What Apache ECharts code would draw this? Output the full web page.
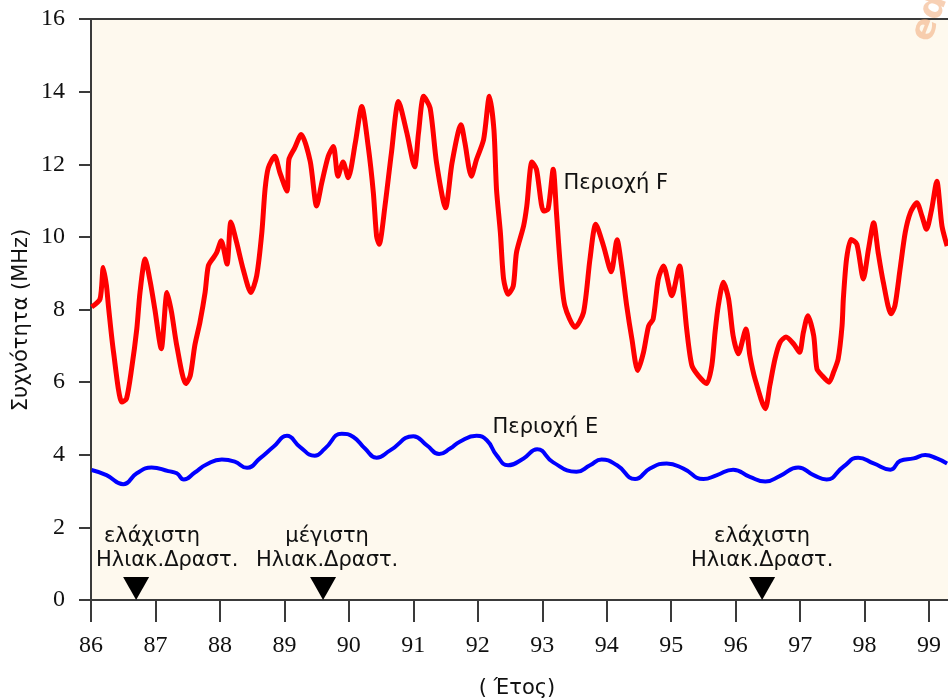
<!DOCTYPE html>
<html><head><meta charset="utf-8">
<script src="https://cdn.jsdelivr.net/npm/echarts@6/dist/echarts.min.js"></script>
<style>html,body{margin:0;padding:0;background:#fff}#c{width:948px;height:699px}</style>
</head><body><div id="c"></div>
<script>
// ---- data ----
const xTicks = [86,87,88,89,90,91,92,93,94,95,96,97,98,99];
const yTicks = [0,2,4,6,8,10,12,14,16];

// Περιοχή F (red)
const fYears = [86.01,86.14,86.19,86.24,86.27,86.35,86.48,86.55,86.63,86.71,86.76,86.84,86.92,86.99,87.09,87.18,87.25,87.33,87.47,87.54,87.61,87.69,87.77,87.82,87.90,87.95,88.02,88.11,88.17,88.26,88.36,88.48,88.57,88.65,88.70,88.75,88.85,88.93,89.04,89.07,89.16,89.26,89.40,89.50,89.58,89.68,89.76,89.83,89.91,89.99,90.10,90.20,90.30,90.38,90.43,90.47,90.56,90.66,90.77,90.90,91.02,91.08,91.16,91.26,91.36,91.50,91.60,91.74,91.80,91.90,91.98,92.09,92.18,92.25,92.29,92.35,92.40,92.47,92.55,92.60,92.71,92.76,92.84,92.91,93.02,93.09,93.17,93.22,93.28,93.35,93.51,93.64,93.74,93.83,93.95,94.07,94.16,94.23,94.31,94.39,94.48,94.57,94.65,94.72,94.80,94.88,95.01,95.13,95.19,95.24,95.32,95.42,95.55,95.63,95.68,95.73,95.81,95.89,95.96,96.04,96.16,96.22,96.30,96.46,96.53,96.61,96.69,96.78,96.90,96.99,97.05,97.12,97.21,97.26,97.34,97.45,97.52,97.59,97.65,97.67,97.72,97.79,97.88,97.98,98.06,98.14,98.21,98.29,98.41,98.47,98.55,98.63,98.71,98.81,98.89,98.96,99.04,99.12,99.20,99.28];
const fValues = [8.07,8.29,9.16,8.65,8.10,6.82,5.45,5.54,6.37,7.46,8.47,9.39,8.75,8.01,6.92,8.47,7.92,7.01,5.96,6.18,7.01,7.65,8.47,9.20,9.43,9.57,9.89,9.25,10.41,9.84,9.11,8.47,8.93,10.12,11.31,11.90,12.22,11.77,11.26,12.13,12.45,12.82,12.08,10.85,11.49,12.22,12.49,11.67,12.06,11.63,12.59,13.59,12.49,11.21,10.02,9.80,10.85,12.31,13.73,12.86,11.93,12.86,13.87,13.55,12.04,10.80,12.04,13.09,12.59,11.67,12.13,12.68,13.87,12.95,11.31,10.12,8.84,8.42,8.65,9.57,10.30,10.85,12.06,11.86,10.71,10.76,11.86,10.67,9.20,8.10,7.51,7.92,9.39,10.35,9.75,9.04,9.92,9.20,8.10,7.19,6.32,6.82,7.55,7.74,8.84,9.20,8.38,9.20,8.38,7.46,6.46,6.18,5.96,6.46,7.37,8.10,8.75,8.29,7.28,6.78,7.46,6.73,6.09,5.27,5.91,6.64,7.10,7.24,7.05,6.82,7.37,7.83,7.28,6.37,6.18,6.00,6.28,6.64,7.55,8.29,9.39,9.93,9.80,8.84,9.66,10.39,9.57,8.75,7.88,8.10,9.11,10.12,10.67,10.94,10.57,10.21,10.76,11.53,10.30,9.75];

// Περιοχή E (blue)
const eYears = [86.01,86.24,86.50,86.71,86.94,87.20,87.33,87.44,87.61,87.79,88.03,88.23,88.42,88.62,88.83,89.04,89.24,89.47,89.63,89.89,90.07,90.25,90.43,90.64,91.00,91.21,91.40,91.57,91.72,91.98,92.14,92.29,92.47,92.71,92.92,93.17,93.53,93.74,93.92,94.16,94.44,94.67,94.93,95.19,95.50,95.71,95.96,96.22,96.46,96.69,96.97,97.21,97.41,97.67,97.90,98.14,98.40,98.55,98.76,98.94,99.12,99.28];
const eValues = [3.58,3.44,3.19,3.49,3.65,3.55,3.49,3.32,3.51,3.73,3.87,3.81,3.64,3.90,4.22,4.52,4.22,3.97,4.17,4.58,4.49,4.17,3.92,4.12,4.51,4.26,4.02,4.17,4.36,4.52,4.40,3.99,3.71,3.90,4.15,3.79,3.53,3.71,3.87,3.71,3.33,3.62,3.76,3.62,3.33,3.44,3.59,3.39,3.26,3.42,3.65,3.44,3.32,3.67,3.92,3.76,3.59,3.83,3.90,3.99,3.90,3.76];

// solar activity markers
const annoYears = [86.70, 89.60, 96.41];
const annoLine1 = ['ελάχιστη', 'μέγιστη', 'ελάχιστη'];
const annoLine2 = ['Ηλιακ.Δραστ.', 'Ηλιακ.Δραστ.', 'Ηλιακ.Δραστ.'];

// region labels
const regionNames = ['Περιοχή F', 'Περιοχή E'];
const regionAnchors = [[93.32, 11.48], [92.22, 4.74]];

const yName = 'Συχνότητα (MHz)';
const xName = '( Έτος)';

// ---- chart ----
const SANS = 'DejaVu Sans';
const SERIF = 'Liberation Serif';
const AX = '#3a3a3a';
const TXT = '#111';
const annoOffsets = [[31, 0], [4, 0], [0, 0]];
const annoPad = [8, 0, 0];

const chart = echarts.init(document.getElementById('c'), null, {renderer: 'canvas'});
const xMin = 86, xMax = 99.34;

chart.setOption({
  animation: false,
  backgroundColor: '#ffffff',
  grid: {left: 91, top: 19, width: 860, bottom: 99, show: true, backgroundColor: '#fef9ee', borderWidth: 0,
    containLabel: false, outerBoundsMode: 'none'},
  xAxis: [{
    type: 'value', min: xMin, max: xMax, position: 'bottom',
    axisLine: {show: true, lineStyle: {color: AX, width: 2}},
    axisTick: {show: true, length: 22, lineStyle: {color: AX, width: 2}, customValues: xTicks},
    axisLabel: {show: true, margin: 34, customValues: xTicks, color: TXT, fontFamily: SERIF, fontSize: 24,
      formatter: v => String(v)},
    splitLine: {show: false}
  }, {
    type: 'value', min: xMin, max: xMax, position: 'top',
    axisLine: {show: true, lineStyle: {color: AX, width: 2}},
    axisTick: {show: false}, axisLabel: {show: false}, splitLine: {show: false}
  }],
  yAxis: {
    type: 'value', min: 0, max: 16, interval: 2,
    axisLine: {show: true, lineStyle: {color: AX, width: 2}},
    axisTick: {show: true, length: 12, lineStyle: {color: AX, width: 2}, customValues: yTicks},
    axisLabel: {show: true, margin: 26, customValues: yTicks, color: TXT, fontFamily: SERIF, fontSize: 24},
    splitLine: {show: false}
  },
  series: [{
    name: 'F', type: 'line', smooth: 0.25, symbol: 'none',
    data: fYears.map((x, i) => [x, fValues[i]]),
    lineStyle: {color: '#ff0000', width: 5},
    markPoint: {
      symbol: 'circle', symbolSize: 1, itemStyle: {color: 'rgba(0,0,0,0)'},
      label: {show: true, position: 'right', distance: 0, color: TXT, fontFamily: SANS, fontSize: 21,
        formatter: () => regionNames[0]},
      data: [{coord: regionAnchors[0]}]
    }
  }, {
    name: 'E', type: 'line', smooth: 0.5, symbol: 'none',
    data: eYears.map((x, i) => [x, eValues[i]]),
    lineStyle: {color: '#0000ff', width: 4},
    markPoint: {
      symbol: 'circle', symbolSize: 1, itemStyle: {color: 'rgba(0,0,0,0)'},
      label: {show: true, position: 'right', distance: 0, color: TXT, fontFamily: SANS, fontSize: 21,
        formatter: () => regionNames[1]},
      data: [{coord: regionAnchors[1]}]
    }
  }, {
    name: 'solar', type: 'scatter',
    symbol: 'path://M0,0L2,0L1,2Z', symbolSize: [26, 23], symbolOffset: [0, -11.5],
    itemStyle: {color: '#000', opacity: 1},
    data: annoYears.map((x, i) => ({
      value: [x, 0],
      label: {
        offset: annoOffsets[i],
        formatter: '{a|' + annoLine1[i] + '}\n{b|' + annoLine2[i] + '}',
        rich: {
          a: {align: i === 0 ? 'left' : 'center', padding: [0, 0, 0, annoPad[i]], fontFamily: SANS, fontSize: 21, color: TXT, lineHeight: 24},
          b: {align: 'center', fontFamily: SANS, fontSize: 21, color: TXT, lineHeight: 24}
        }
      }
    })),
    label: {show: true, position: 'top', distance: 4}
  }],
  graphic: [{
    type: 'text', x: 22, y: 320, rotation: Math.PI / 2,
    style: {text: yName, fill: TXT, font: '21px "DejaVu Sans"', align: 'center', verticalAlign: 'middle'}
  }, {
    type: 'text', x: 517, y: 689,
    style: {text: xName, fill: TXT, font: '21px "DejaVu Sans"', align: 'center', verticalAlign: 'middle'}
  }, {
    type: 'text', x: 930, y: 18, rotation: 1.2, z: 100,
    style: {text: 'ed', fill: 'rgba(240,170,120,0.55)', font: 'bold 34px "DejaVu Sans"', align: 'center', verticalAlign: 'middle'}
  }]
});
</script></body></html>
